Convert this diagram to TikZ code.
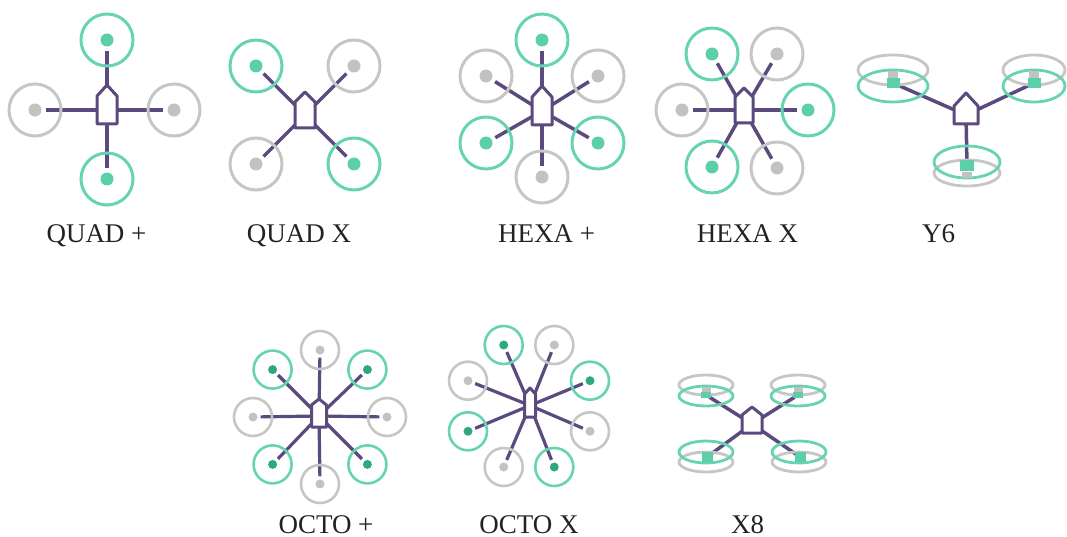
\documentclass[tikz,border=0pt]{standalone}
\usepackage{fontspec}
\setmainfont{Liberation Serif}
\usetikzlibrary{backgrounds}
\definecolor{mint}{HTML}{66D4B1}
\definecolor{mintdot}{HTML}{5BCFA9}
\definecolor{deepmint}{HTML}{2FA882}
\definecolor{silver}{HTML}{C6C6C6}
\definecolor{silverdot}{HTML}{C2C2C2}
\definecolor{plum}{HTML}{5B4A7E}
\definecolor{ink}{HTML}{222222}

% rotor: ring node (name r) and hub dot node (name)
\newcommand\propeller[5]{%
  \node[#4] (#1r) at (#2,#3) {};
  \node[#5] (#1) at (#2,#3) {};}
% frame body: name, centre x, half width, shoulder y, bottom y, nose y
\newcommand\hull[6]{%
  \draw[hullline] ({#2-#3},#5) -- ({#2-#3},#4) -- (#2,#6) -- ({#2+#3},#4) -- ({#2+#3},#5) -- cycle;
  \coordinate (#1) at (#2,{(#4+#5)/2});}

\begin{document}
\begin{tikzpicture}[x=1pt,y=-1pt,
  ringG/.style={circle,draw=mint,line width=3pt,minimum size=52pt,inner sep=0pt},
  ringS/.style={circle,draw=silver,line width=3pt,minimum size=52pt,inner sep=0pt},
  hubG/.style={circle,fill=mintdot,minimum size=13pt,inner sep=0pt},
  hubS/.style={circle,fill=silverdot,minimum size=13pt,inner sep=0pt},
  sringG/.style={ringG,minimum size=38pt,line width=2.6pt},
  sringS/.style={ringS,minimum size=38pt,line width=2.6pt},
  shubG/.style={circle,fill=deepmint,minimum size=9pt,inner sep=0pt},
  shubS/.style={circle,fill=silverdot,minimum size=9pt,inner sep=0pt},
  hullline/.style={draw=plum,line width=3pt,fill=white,line join=round},
  arm/.style={draw=plum,line width=3.5pt,shorten >=4pt},
  armc/.style={arm,shorten >=-2pt},
  ellG/.style={draw=mint,line width=2.8pt},
  ellS/.style={draw=silver,line width=2.8pt},
  sqG/.style={rectangle,fill=mintdot,inner sep=0pt},
  sqS/.style={rectangle,fill=silverdot,inner sep=0pt},
  cfgname/.style={font=\fontsize{27}{32}\selectfont,text=ink,anchor=base,inner sep=0pt}
]
\useasboundingbox (0,0) rectangle (1067,537);

% ---------- QUAD + ----------
\propeller{qpT}{107}{40}{ringG}{hubG}
\propeller{qpL}{35}{110}{ringS}{hubS}
\propeller{qpR}{174}{110}{ringS}{hubS}
\propeller{qpB}{107}{179}{ringG}{hubG}
\hull{qp}{107}{10}{96}{124}{85}
\node[cfgname] (qpN) at (96.5,243) {QUAD +};

% ---------- QUAD X ----------
\propeller{qxA}{256}{66}{ringG}{hubG}
\propeller{qxB}{354}{66}{ringS}{hubS}
\propeller{qxC}{256}{164}{ringS}{hubS}
\propeller{qxD}{354}{164}{ringG}{hubG}
\hull{qx}{305}{10}{102}{128}{92}
\node[cfgname] (qxN) at (299,243) {QUAD X};

% ---------- HEXA + ----------
\propeller{hpA}{542}{40}{ringG}{hubG}
\propeller{hpB}{486}{76}{ringS}{hubS}
\propeller{hpC}{598}{76}{ringS}{hubS}
\propeller{hpD}{486}{143}{ringG}{hubG}
\propeller{hpE}{598}{143}{ringG}{hubG}
\propeller{hpF}{542}{177}{ringS}{hubS}
\hull{hp}{542}{10}{97}{125}{86}
\node[cfgname] (hpN) at (546.5,243) {HEXA +};

% ---------- HEXA X ----------
\propeller{hxA}{712}{54}{ringG}{hubG}
\propeller{hxB}{777}{54}{ringS}{hubS}
\propeller{hxC}{682}{110}{ringS}{hubS}
\propeller{hxD}{808}{110}{ringG}{hubG}
\propeller{hxE}{712}{167}{ringG}{hubG}
\propeller{hxF}{777}{168}{ringS}{hubS}
\hull{hx}{744}{9}{97}{123}{88}
\node[cfgname] (hxN) at (747.5,243) {HEXA X};

% ---------- Y6 (coaxial pairs) ----------
\draw[ellS] (893,70) ellipse [x radius=35, y radius=15];
\draw[ellG] (893,86) ellipse [x radius=35, y radius=16];
\node[sqS,minimum width=10pt,minimum height=7pt] (ylT) at (893,75) {};
\node[sqG,minimum width=13pt,minimum height=10pt] (yl) at (893,83) {};
\draw[ellS] (1034,70) ellipse [x radius=31, y radius=15];
\draw[ellG] (1034,86) ellipse [x radius=31, y radius=16];
\node[sqS,minimum width=10pt,minimum height=7pt] (yrT) at (1034,75) {};
\node[sqG,minimum width=13pt,minimum height=10pt] (yr) at (1034,83) {};
\draw[ellS] (967,173) ellipse [x radius=33, y radius=13];
\draw[ellG] (967,162) ellipse [x radius=33, y radius=16];
\node[sqS,minimum width=10pt,minimum height=6pt] (ybT) at (967,175) {};
\node[sqG,minimum width=14pt,minimum height=11pt] (yb) at (967,166) {};
\hull{ys}{966}{12}{106}{124}{93}
\node[cfgname] (ysN) at (938.5,243) {Y6};

% ---------- OCTO + ----------
\propeller{opA}{320}{350}{sringS}{shubS}
\propeller{opB}{367.4}{369.6}{sringG}{shubG}
\propeller{opC}{387}{417}{sringS}{shubS}
\propeller{opD}{367.4}{464.4}{sringG}{shubG}
\propeller{opE}{320}{484}{sringS}{shubS}
\propeller{opF}{272.6}{464.4}{sringG}{shubG}
\propeller{opG}{253}{417}{sringS}{shubS}
\propeller{opH}{272.6}{369.6}{sringG}{shubG}
\hull{op}{319}{7.5}{405}{427}{399}
\node[cfgname] (opN) at (326,533) {OCTO +};

% ---------- OCTO X ----------
\propeller{oxA}{503.7}{345}{sringG}{shubG}
\propeller{oxB}{554.3}{345}{sringS}{shubS}
\propeller{oxC}{590}{380.7}{sringG}{shubG}
\propeller{oxD}{590}{431.3}{sringS}{shubS}
\propeller{oxE}{554.3}{467}{sringG}{shubG}
\propeller{oxF}{503.7}{467}{sringS}{shubS}
\propeller{oxG}{468}{431.3}{sringG}{shubG}
\propeller{oxH}{468}{380.7}{sringS}{shubS}
\hull{ox}{530}{5.5}{394}{417}{388}
\node[cfgname] (oxN) at (529,533) {OCTO X};

% ---------- X8 (coaxial pairs) ----------
\draw[ellS] (706,385) ellipse [x radius=27, y radius=10];
\draw[ellG] (706,396) ellipse [x radius=27, y radius=10];
\node[sqS,minimum width=9pt,minimum height=6pt] (xaT) at (706,390) {};
\node[sqG,minimum width=10pt,minimum height=6pt] (xa) at (706,395) {};
\draw[ellS] (798,385) ellipse [x radius=27, y radius=10];
\draw[ellG] (798,396) ellipse [x radius=27, y radius=10];
\node[sqS,minimum width=9pt,minimum height=6pt] (xbT) at (798,390) {};
\node[sqG,minimum width=10pt,minimum height=6pt] (xb) at (798,395) {};
\draw[ellS] (706,462) ellipse [x radius=27, y radius=10];
\draw[ellG] (706,452) ellipse [x radius=27, y radius=11];
\node[sqG,minimum width=11pt,minimum height=10pt] (xc) at (707,457) {};
\draw[ellS] (799,462) ellipse [x radius=27, y radius=10];
\draw[ellG] (799,452) ellipse [x radius=27, y radius=11];
\node[sqG,minimum width=11pt,minimum height=10pt] (xd) at (800,457) {};
\hull{xe}{752}{10}{415}{433}{407}
\node[cfgname] (xeN) at (747.5,533) {X8};

% ---------- arms, behind rings and bodies ----------
\begin{scope}[on background layer]
  \foreach \r in {qpT,qpL,qpR,qpB} \draw[arm] (qp) -- (\r);
  \foreach \r in {qxA,qxB,qxC,qxD} \draw[arm] (qx) -- (\r);
  \foreach \r in {hpA,hpB,hpC,hpD,hpE,hpF} \draw[arm] (hp) -- (\r);
  \foreach \r in {hxA,hxB,hxC,hxD,hxE,hxF} \draw[arm] (hx) -- (\r);
  \foreach \r in {yl,yr,yb} \draw[armc] (ys) -- (\r);
  \foreach \r in {opA,opB,opC,opD,opE,opF,opG,opH} \draw[arm,line width=3.2pt,shorten >=3pt] (op) -- (\r);
  \foreach \r in {oxA,oxB,oxC,oxD,oxE,oxF,oxG,oxH} \draw[arm,line width=3.2pt,shorten >=3pt] (ox) -- (\r);
  \foreach \r in {xa,xb,xc,xd} \draw[armc] (xe) -- (\r);
\end{scope}
\end{tikzpicture}
\end{document}
